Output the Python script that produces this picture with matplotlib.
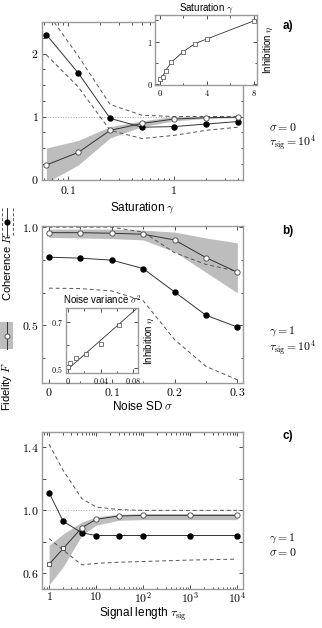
############################ Coherence / fidelity figure ############################
import numpy as np
import matplotlib.pyplot as plt
from matplotlib.lines import Line2D
from matplotlib.patches import Rectangle
from matplotlib.ticker import NullFormatter, MultipleLocator

plt.rcParams['font.family'] = ['Liberation Sans', 'DejaVu Sans']
plt.rcParams['mathtext.fontset'] = 'cm'

############################## data ##############################
# a) saturation sweep
gamma = [0.0625, 0.125, 0.25, 0.5, 1, 2, 4]
R_a = [2.30, 1.69, 0.97, 0.83, 0.84, 0.88, 0.92]
R_a_hi = [2.67, 1.96, 1.19, 1.02, 1.00, 1.00, 1.00]
R_a_lo = [1.98, 1.47, 0.78, 0.65, 0.70, 0.78, 0.83]
F_a = [0.23, 0.43, 0.78, 0.89, 0.96, 0.98, 0.99]
F_a_hi = [0.50, 0.62, 0.84, 0.93, 1.00, 1.00, 1.00]
F_a_lo = [-0.05, 0.23, 0.66, 0.84, 0.93, 0.97, 0.98]
# inset a) inhibition vs saturation
gamma_in = [0.0625, 0.25, 0.5, 1, 2, 3, 4, 8]
eta_a = [0.11, 0.17, 0.31, 0.51, 0.76, 0.95, 1.06, 1.49]

# b) noise sweep
sigma = [0, 0.05, 0.1, 0.15, 0.2, 0.25, 0.3]
R_b = [0.847, 0.842, 0.832, 0.789, 0.670, 0.551, 0.491]
R_b_hi = [1.00, 1.00, 1.00, 0.975, 0.870, 0.810, 0.775]
R_b_lo = [0.689, 0.687, 0.675, 0.625, 0.427, 0.290, 0.222]
F_b = [0.972, 0.972, 0.969, 0.964, 0.935, 0.845, 0.770]
F_b_hi = [0.990, 0.990, 0.990, 0.985, 0.975, 0.945, 0.920]
F_b_lo = [0.948, 0.945, 0.942, 0.935, 0.875, 0.770, 0.665]
# inset b) inhibition vs noise variance
var_in = [0, 0.0025, 0.01, 0.0225, 0.04, 0.0625]
eta_b = [0.507, 0.522, 0.543, 0.562, 0.604, 0.687]
fit_var = [0, 0.09]
fit_eta = [0.497, 0.778]

# c) signal length sweep
tau = [1, 2, 5, 10, 30, 100, 1000, 10000]
R_c = [1.112, 0.930, 0.857, 0.840, 0.840, 0.840, 0.840, 0.840]
R_c_hi = [1.42, 1.253, 1.074, 1.021, 1.005, 1.0, 1.0, 1.0]
R_c_lo = [0.821, 0.747, 0.653, 0.663, 0.670, 0.675, 0.684, 0.690]
F_c = [0.657, 0.758, 0.890, 0.943, 0.964, 0.968, 0.968, 0.968]
F_c_hi = [0.779, 0.850, 0.926, 0.958, 0.975, 0.979, 0.979, 0.979]
F_c_lo = [0.526, 0.642, 0.842, 0.905, 0.937, 0.941, 0.941, 0.941]

############################## styles ##############################
BAND = '#bdbdbd'
LINE = '#333333'
DASH = '#555555'
SPINE = '#9a9a9a'
W, H = 322, 628


def fx(px):
    return px / W


def fy(py):
    return 1 - py / H


def style_axes(ax, size=8.5, pad=2.5):
    for s in ax.spines.values():
        s.set_color(SPINE)
        s.set_linewidth(1.0)
    ax.tick_params(which='both', direction='in', top=True, right=True,
                   color='#333333', width=0.6, labelsize=size, pad=pad)
    ax.tick_params(which='major', length=3)
    ax.tick_params(which='minor', length=1.8)


def put_xlabel(ax, text, py, top, bottom):
    # place x label centre at a given pixel row
    ax.set_xlabel(text, fontsize=8.5)
    ax.xaxis.set_label_coords(0.5, (bottom - py) / (bottom - top))
    ax.xaxis.label.set_va('center')


def draw_panel(ax, x, R, R_hi, R_lo, F, F_hi, F_lo, open_sq=0):
    ax.fill_between(x, F_lo, F_hi, color=BAND, lw=0, zorder=1)
    ax.plot(x, R_hi, ls=(0, (4, 3)), color=DASH, lw=0.7, zorder=2)
    ax.plot(x, R_lo, ls=(0, (4, 3)), color=DASH, lw=0.7, zorder=2)
    ax.plot(x, R, '-o', color=LINE, lw=0.7, ms=3.6, mfc='black', mec='black', zorder=3)
    ax.plot(x, F, '-', color=LINE, lw=0.7, zorder=3)
    ax.plot(x[open_sq:], F[open_sq:], 'o', ms=3.8, mfc='white', mec='#444444', mew=0.6, zorder=4)
    if open_sq:
        ax.plot(x[:open_sq], F[:open_sq], 's', ms=3.4, mfc='white', mec='#444444', mew=0.6, zorder=4)


fig = plt.figure(figsize=(W / 100, H / 100), dpi=100)

############################## panel a ##############################
ax_a = fig.add_axes([fx(42), fy(179.5), fx(201), 157.5 / H])
ax_a.axhline(1, color='#aaaaaa', ls=':', lw=0.7, zorder=0)
draw_panel(ax_a, gamma, R_a, R_a_hi, R_a_lo, F_a, F_a_hi, F_a_lo)
ax_a.set_xscale('log')
ax_a.set_xlim(0.0569, 4.48)
ax_a.set_ylim(0, 2.5)
ax_a.set_xticks([0.1, 1], labels=['$0.1$', '$1$'])
ax_a.xaxis.set_minor_formatter(NullFormatter())
ax_a.set_yticks([0, 1, 2], labels=['$0$', '$1$', '$2$'])
ax_a.yaxis.set_minor_locator(MultipleLocator(0.25))
style_axes(ax_a)
ax_a.tick_params(axis='x', pad=4)
put_xlabel(ax_a, r'Saturation $\gamma$', 208, 22, 179.5)

ins_a = fig.add_axes([fx(155.3), fy(85), fx(102), 70 / H])
ins_a.plot(gamma_in, eta_a, '-s', color=LINE, lw=0.6, ms=3.2, mfc='white', mec='#444444', mew=0.5)
ins_a.set_xlim(-0.37, 8.3)
ins_a.set_ylim(-0.03, 1.63)
ins_a.set_xticks([0, 4, 8], labels=['$0$', '$4$', '$8$'])
ins_a.set_yticks([0, 1], labels=['$0$', '$1$'])
ins_a.xaxis.set_minor_locator(MultipleLocator(2))
ins_a.yaxis.set_minor_locator(MultipleLocator(0.5))
style_axes(ins_a, size=6.2, pad=2)
ins_a.set_title(r'Saturation $\gamma$', fontsize=7, pad=3)
ins_a.yaxis.set_label_position('right')
ins_a.set_ylabel(r'Inhibition $\eta$', fontsize=7, labelpad=3)

############################## panel b ##############################
ax_b = fig.add_axes([fx(42), fy(383.3), fx(201), 157.3 / H])
draw_panel(ax_b, sigma, R_b, R_b_hi, R_b_lo, F_b, F_b_hi, F_b_lo)
ax_b.set_xlim(-0.011, 0.309)
ax_b.set_ylim(0.204, 1.006)
ax_b.set_xticks([0, 0.1, 0.2, 0.3], labels=['$0$', '$0.1$', '$0.2$', '$0.3$'])
ax_b.xaxis.set_minor_locator(MultipleLocator(0.05))
ax_b.set_yticks([0.5, 1.0], labels=['$0.5$', '$1.0$'])
ax_b.yaxis.set_minor_locator(MultipleLocator(1 / 6))
style_axes(ax_b)
put_xlabel(ax_b, r'Noise SD $\sigma$', 406, 226, 383.3)

ins_b = fig.add_axes([fx(65.7), fy(373.3), fx(72.6), 65 / H])
ins_b.plot(fit_var, fit_eta, '-', color=LINE, lw=0.6)
ins_b.plot(var_in, eta_b, 's', ms=3.2, mfc='white', mec='#444444', mew=0.5)
ins_b.set_xlim(-0.003, 0.0862)
ins_b.set_ylim(0.478, 0.761)
ins_b.set_xticks([0, 0.04, 0.08], labels=['$0$', '$0.04$', '$0.08$'])
ins_b.set_yticks([0.5, 0.7], labels=['$0.5$', '$0.7$'])
ins_b.xaxis.set_minor_locator(MultipleLocator(0.02))
ins_b.yaxis.set_minor_locator(MultipleLocator(0.1))
style_axes(ins_b, size=5.8, pad=2)
ins_b.set_title(r'Noise variance $\sigma^2$', fontsize=7, pad=3)
ins_b.yaxis.set_label_position('right')
ins_b.set_ylabel(r'Inhibition $\eta$', fontsize=7, labelpad=3)

############################## panel c ##############################
ax_c = fig.add_axes([fx(42), fy(589), fx(201), 157.3 / H])
ax_c.axhline(1, color='#aaaaaa', ls=':', lw=0.7, zorder=0)
draw_panel(ax_c, tau, R_c, R_c_hi, R_c_lo, F_c, F_c_hi, F_c_lo, open_sq=2)
ax_c.set_xscale('log')
ax_c.set_xlim(0.708, 1.33e4)
ax_c.set_ylim(0.5, 1.5)
ax_c.set_xticks([1, 10, 100, 1000, 10000],
                labels=['$1$', '$10$', '$10^2$', '$10^3$', '$10^4$'])
ax_c.xaxis.set_minor_formatter(NullFormatter())
ax_c.set_yticks([0.6, 1.0, 1.4], labels=['$0.6$', '$1.0$', '$1.4$'])
ax_c.yaxis.set_minor_locator(MultipleLocator(0.2))
style_axes(ax_c)
ax_c.tick_params(which='minor', axis='y', length=3)
ax_c.tick_params(axis='x', pad=1.5)
put_xlabel(ax_c, r'Signal length $\tau_{\rm sig}$', 614, 431.7, 589)

############################## side texts ##############################
for lab, py in [('a)', 26), ('b)', 231), ('c)', 436)]:
    fig.text(fx(288), fy(py), lab, fontsize=8.5, fontweight='bold', ha='center', va='center')

notes = [
    (r'$\sigma = 0$', 128), (r'$\tau_{\rm sig} = 10^4$', 143),
    (r'$\gamma = 1$', 331), (r'$\tau_{\rm sig} = 10^4$', 348),
    (r'$\gamma = 1$', 538), (r'$\sigma = 0$', 553),
]
for txt, py in notes:
    fig.text(fx(269), fy(py), txt, fontsize=8.5, ha='left', va='center')

# vertical legend on the left edge
for px_ in [1.8, 12.7]:
    fig.add_artist(Line2D([fx(px_)] * 2, [fy(208), fy(236)], color=DASH, lw=0.7, ls=(0, (3, 2))))
fig.add_artist(Line2D([fx(7.3)] * 2, [fy(208), fy(236)], color=LINE, lw=0.7))
fig.add_artist(Line2D([fx(7.3)], [fy(222)], marker='o', ms=3.4, color='black'))
fig.text(fx(7.3), fy(267), r'Coherence $R$', rotation=90, fontsize=8, ha='center', va='center')

fig.add_artist(Rectangle((0, fy(349.3)), fx(13.3), 27.6 / H, color=BAND, lw=0,
                         transform=fig.transFigure))
fig.add_artist(Line2D([fx(7.3)] * 2, [fy(322), fy(349)], color=LINE, lw=0.7))
fig.add_artist(Line2D([fx(7.3)], [fy(335.7)], marker='o', ms=3.6, mfc='white',
                      mec='#444444', mew=0.6))
fig.text(fx(7.3), fy(387), r'Fidelity $F$', rotation=90, fontsize=8, ha='center', va='center')

fig.savefig('out.png', dpi=100)
